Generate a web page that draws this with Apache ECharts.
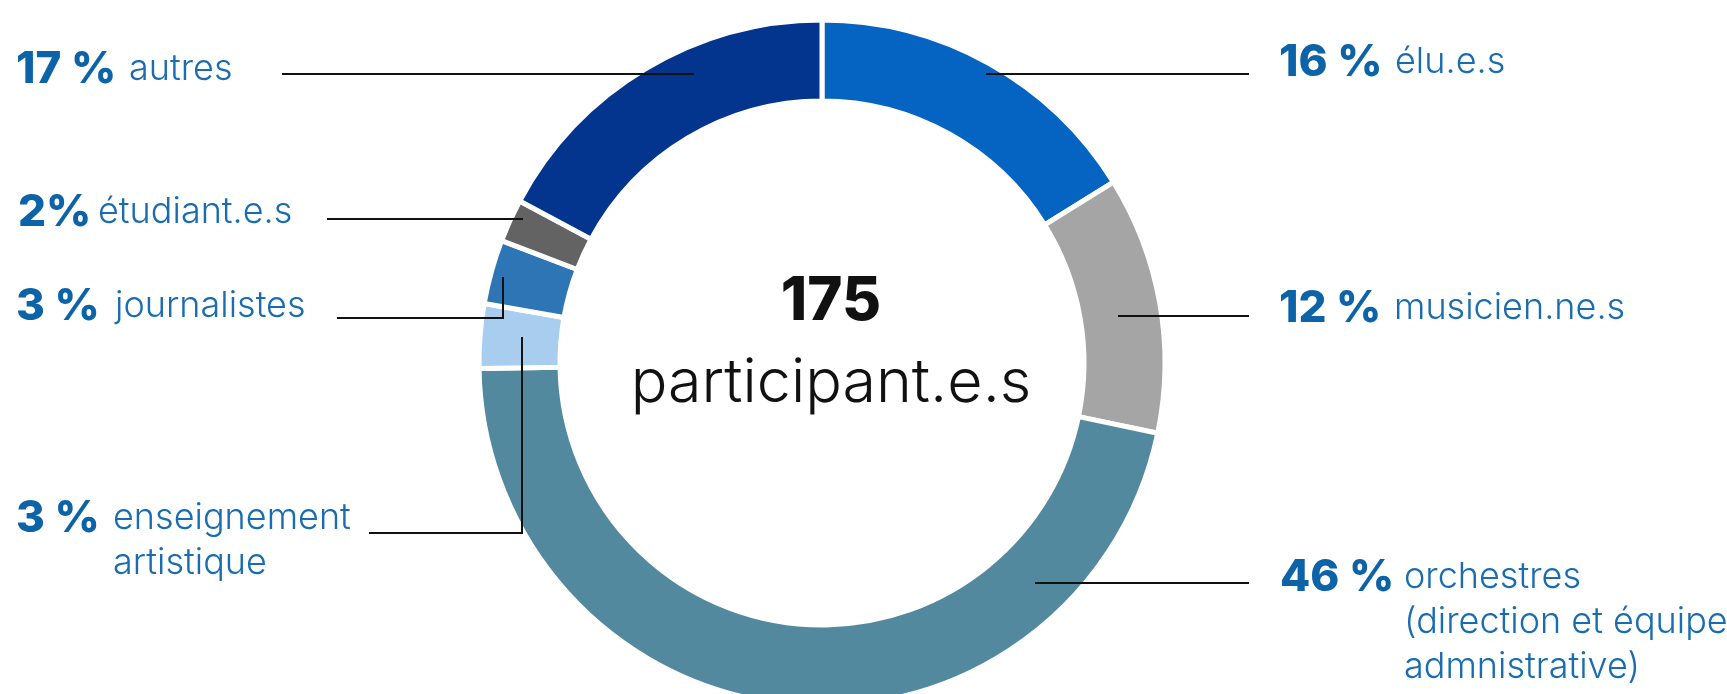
<!DOCTYPE html>
<html>
<head>
<meta charset="utf-8">
<title>Participant.e.s</title>
<script src="https://cdn.jsdelivr.net/npm/echarts@6/dist/echarts.min.js"></script>
<style>
  html, body { margin: 0; padding: 0; background: #fff; }
  #participants { width: 1727px; height: 694px; }
</style>
</head>
<body>
<div id="participants"></div>
<script>
// répartition des participant.e.s, sens horaire depuis midi
const categories = ['élu.e.s', 'musicien.ne.s', 'orchestres', 'enseignement', 'journalistes', 'étudiant.e.s', 'autres']
const shares = [16, 12, 46, 3, 3, 2, 17]
const shareLabels = ['16 %', '12 %', '46 %', '3 %', '3 %', '2%', '17 %']
const descriptions = [
  ['élu.e.s'],
  ['musicien.ne.s'],
  ['orchestres', '(direction et équipe', 'admnistrative)'],
  ['enseignement', 'artistique'],
  ['journalistes'],
  ['étudiant.e.s'],
  ['autres']
]
const totalValue = '175'
const totalCaption = 'participant.e.s'

const sliceColors = ['#0563c1', '#a5a5a5', '#52899f', '#a9cdee', '#2e75b6', '#636363', '#03358f']

// placement des étiquettes et des traits de rappel (mise en page seulement)
const labelSpots = [
  { x: 1279, y: 40, indent: 116, line: [[986, 74], [1249, 74]] },
  { x: 1279, y: 286, indent: 115, line: [[1118, 316], [1249, 316]] },
  { x: 1280, y: 555, indent: 124, line: [[1035, 583], [1249, 583]] },
  { x: 16, y: 496, indent: 97, line: [[522, 337], [522, 533], [369, 533]] },
  { x: 16, y: 284, indent: 99, line: [[503, 277], [503, 318], [337, 318]] },
  { x: 18, y: 190, indent: 80, line: [[523, 219], [327, 219]] },
  { x: 16, y: 47, indent: 113, line: [[694, 74], [282, 74]] }
]

const FONT = 'Inter'
const PCT_COLOR = '#0c63a8'
const TXT_COLOR = '#1a6cb0'

function richFor(indent) {
  return {
    pct: { fontFamily: FONT, fontSize: 44, fontWeight: 800, color: PCT_COLOR, width: indent, lineHeight: 45 },
    txt: { fontFamily: FONT, fontSize: 36, fontWeight: 300, color: TXT_COLOR, lineHeight: 45 },
    pad: { width: indent, lineHeight: 45 }
  }
}

const pieData = categories.map(function(name, i) {
  return {
    name: name,
    value: shares[i],
    itemStyle: { color: sliceColors[i] },
    label: { rich: richFor(labelSpots[i].indent) }
  }
})

// traits de rappel
const leaderLines = labelSpots.map(function(spot) {
  return {
    type: 'polyline',
    z: 10,
    shape: { points: spot.line },
    style: { stroke: '#111', lineWidth: 2, fill: null }
  }
})

const chart = echarts.init(document.getElementById('participants'))
chart.setOption({
  animation: false,
  graphic: leaderLines.concat([
    {
      type: 'text',
      z: 10,
      style: {
        text: totalValue,
        x: 831,
        y: 302,
        align: 'center',
        verticalAlign: 'middle',
        fontFamily: FONT,
        fontSize: 60,
        fontWeight: 800,
        fill: '#111'
      }
    },
    {
      type: 'text',
      z: 10,
      style: {
        text: totalCaption,
        x: 831,
        y: 384,
        align: 'center',
        verticalAlign: 'middle',
        fontFamily: FONT,
        fontSize: 61,
        fontWeight: 300,
        fill: '#111'
      }
    }
  ]),
  series: [{
    type: 'pie',
    center: [822, 363],
    radius: [262, 343],
    startAngle: 90,
    clockwise: true,
    avoidLabelOverlap: false,
    silent: true,
    itemStyle: { borderColor: '#fff', borderWidth: 5 },
    label: {
      show: true,
      position: 'outside',
      formatter: function(p) {
        const lines = descriptions[p.dataIndex]
        let s = '{pct|' + shareLabels[p.dataIndex] + '}{txt|' + lines[0] + '}'
        for (let k = 1; k < lines.length; k++) {
          s += '\n{pad|}{txt|' + lines[k] + '}'
        }
        return s
      }
    },
    labelLine: { show: false },
    labelLayout: function(p) {
      const spot = labelSpots[p.dataIndex]
      return {
        x: spot.x,
        y: spot.y,
        align: 'left',
        verticalAlign: 'top'
      }
    },
    data: pieData
  }]
})
</script>
</body>
</html>
